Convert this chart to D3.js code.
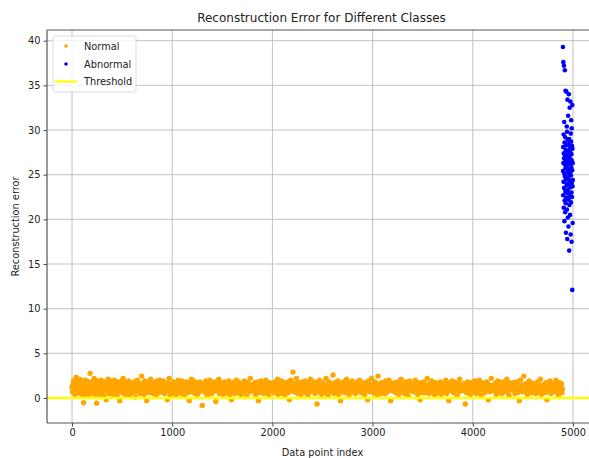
<!DOCTYPE html>
<html>
<head>
<meta charset="utf-8">
<script src="https://cdn.jsdelivr.net/npm/d3@7"></script>
<style>
  html, body { margin: 0; padding: 0; background: #fff; }
  svg { display: block; font-family: "DejaVu Sans", sans-serif; }
</style>
</head>
<body>
<svg id="chart" width="589" height="458"></svg>
<script>
// ---------- DATA ----------
const chartTitle = "Reconstruction Error for Different Classes";
const xLabel = "Data point index";
const yLabel = "Reconstruction error";
const xTicks = [0, 1000, 2000, 3000, 4000, 5000];
const yTicks = [0, 5, 10, 15, 20, 25, 30, 35, 40];
const seriesNames = ["Normal", "Abnormal", "Threshold"];
const thresholdValue = 0;

// Normal class: every 5th data point index from 0 to 4895
const normalStep = 5;
const normalErr = [
1.2,0.7,1.5,1.9,0.9,1.1,0.4,1.6,2.3,1.0,0.6,1.3,1.8,0.8,1.4,2.1,0.5,1.2,1.7,0.9,
1.1,1.6,0.3,-0.54,1.3,2.0,0.8,1.5,1.0,0.6,1.9,1.2,0.2,1.4,1.7,0.9,2.76,1.1,0.7,1.5,
1.8,0.5,1.2,1.0,2.2,0.8,1.4,0.3,1.6,-0.58,1.1,1.9,0.7,1.3,0.9,1.7,0.4,1.2,2.0,1.0,
0.6,1.5,1.1,1.8,0.2,1.3,0.9,1.6,-0.2,1.0,1.4,0.7,2.1,1.2,0.5,1.7,1.0,0.8,1.5,1.9,
1.3,0.4,1.0,1.7,0.8,2.0,1.2,0.6,1.4,1.1,0.3,1.8,0.9,1.5,1.2,-0.3,1.6,0.7,1.1,1.9,
0.9,1.4,2.2,0.5,1.2,1.0,1.7,0.8,1.3,0.2,1.6,1.1,0.7,1.9,1.0,1.4,0.4,1.5,1.2,0.8,
1.6,1.0,0.6,1.3,1.8,0.9,1.1,0.1,1.5,1.2,2.0,0.7,1.4,0.9,1.7,1.1,0.5,1.3,1.0,2.45,
1.2,0.8,1.5,1.0,0.4,1.9,1.3,0.7,1.6,-0.3,1.1,1.4,0.9,1.8,0.6,1.2,1.0,2.1,0.8,1.5,
1.0,1.7,0.5,1.3,1.1,0.8,1.6,1.2,0.3,1.9,1.4,0.9,1.1,0.6,1.5,2.0,1.0,0.7,1.3,1.8,
0.7,1.2,1.9,1.0,1.4,0.5,1.1,1.6,0.9,1.3,-0.2,1.7,0.8,1.2,2.2,1.0,0.4,1.5,1.1,0.9,
1.4,0.9,1.2,1.8,0.6,1.0,1.5,0.3,1.3,1.7,0.8,1.1,2.0,0.7,1.4,1.0,1.6,0.5,1.2,1.9,
1.1,1.5,0.8,1.2,0.2,1.6,1.0,1.8,0.9,1.3,1.1,0.6,1.7,1.4,-0.3,1.0,1.2,0.7,2.1,1.5,
0.8,1.3,1.0,1.9,1.2,0.5,1.4,1.1,1.7,0.9,0.4,1.5,1.0,1.2,0.7,1.8,1.3,0.9,1.6,1.1,
-0.83,1.2,1.6,0.8,1.0,1.4,0.6,1.9,1.1,1.3,0.2,1.7,1.0,0.9,1.5,2.0,0.7,1.2,1.4,0.5,
1.3,1.0,0.7,1.5,1.8,0.9,1.2,-0.4,1.6,1.1,1.4,0.8,1.0,2.1,0.5,1.3,1.7,0.9,1.1,1.5,
1.0,1.6,0.4,1.2,0.9,1.8,1.1,1.4,0.6,1.0,1.5,1.3,0.8,1.9,1.2,0.3,1.6,1.0,-0.2,1.4,
1.2,0.7,1.7,1.1,1.5,0.5,1.3,0.9,2.0,1.2,0.6,1.4,1.0,1.8,0.8,1.1,1.5,0.4,1.3,1.0,
0.9,1.4,1.1,0.6,1.9,1.0,1.3,0.8,1.6,0.2,1.2,1.7,0.9,1.1,1.4,0.7,2.2,1.0,1.5,1.2,
1.5,1.0,0.8,1.3,1.2,1.7,0.4,1.1,1.4,0.9,1.8,1.0,-0.3,1.3,0.6,1.5,1.2,1.9,0.8,1.1,
1.1,1.6,1.0,0.5,1.4,1.2,0.9,2.0,1.3,0.7,1.1,1.5,1.0,0.3,1.7,1.2,0.8,1.4,1.0,1.6,
1.3,0.8,1.5,1.1,0.6,1.8,1.0,1.2,1.4,0.9,2.1,0.4,1.3,1.1,1.6,0.7,1.2,1.0,1.9,0.5,
1.0,1.4,0.9,1.7,1.2,0.3,1.5,1.1,0.8,1.3,1.0,1.8,0.6,1.2,-0.2,1.4,1.1,2.0,0.9,1.5,
1.2,2.9,1.1,0.7,1.6,1.3,0.9,1.0,2.2,1.4,0.5,1.2,1.7,0.8,1.1,1.5,1.0,0.4,1.3,1.8,
0.8,1.3,1.6,1.0,0.6,1.9,1.2,1.4,0.9,1.1,1.7,0.3,1.5,1.0,1.3,0.7,2.1,1.2,0.9,1.4,
1.5,1.0,0.8,1.2,1.8,0.5,1.1,1.4,1.0,-0.68,1.6,1.2,0.7,1.3,2.0,0.9,1.1,1.5,0.4,1.2,
1.1,1.7,0.9,1.3,0.6,1.0,1.4,2.2,0.8,1.2,1.5,0.2,1.1,1.8,1.0,1.3,0.7,1.6,1.2,0.9,
1.4,2.57,1.0,0.5,1.3,1.7,0.9,1.2,1.5,0.8,1.1,1.9,0.4,1.3,1.0,1.6,-0.3,1.2,1.4,0.7,
1.0,1.3,1.8,0.9,1.1,0.6,1.5,1.2,2.1,1.0,0.8,1.4,1.1,0.3,1.7,1.2,0.9,1.5,1.0,1.9,
1.2,0.7,1.4,1.1,1.6,1.0,0.5,1.3,0.9,1.8,1.2,1.0,1.5,0.8,2.0,1.1,1.4,0.6,1.3,1.0,
0.9,1.5,1.1,1.7,0.4,1.2,1.0,1.6,1.3,0.8,-0.2,1.4,1.9,1.0,1.2,0.7,1.5,1.1,2.2,0.9,
1.3,1.0,0.6,1.4,1.2,1.8,0.9,1.1,1.5,0.3,1.2,2.45,1.0,1.6,0.8,1.3,1.1,0.5,1.7,1.2,
1.1,1.6,1.0,0.8,1.3,0.5,1.9,1.2,1.0,1.4,0.7,1.1,1.5,2.0,0.9,1.2,-0.3,1.3,1.0,1.6,
0.8,1.2,1.5,1.0,1.7,1.1,0.6,1.4,0.9,1.3,1.8,1.0,0.4,1.2,1.6,0.9,1.1,2.1,0.7,1.4,
1.4,0.9,1.1,1.6,0.5,1.3,1.0,1.8,1.2,0.7,1.5,0.2,1.3,1.0,1.9,1.1,0.8,1.4,1.2,1.0,
1.0,1.5,0.7,1.2,1.4,2.0,1.1,0.9,1.6,1.3,0.4,1.2,1.0,1.7,0.8,-0.2,1.5,1.1,1.3,0.6,
1.2,1.0,1.8,0.8,1.1,1.5,0.6,1.3,1.0,2.2,1.4,0.9,1.2,0.5,1.6,1.1,1.3,0.7,1.9,1.0,
1.5,0.8,1.2,1.4,0.3,1.1,1.7,1.0,1.3,0.9,1.6,1.2,0.6,1.4,1.0,1.8,1.1,0.4,1.2,1.5,
0.9,1.3,1.0,1.6,1.2,0.7,2.0,1.1,0.5,1.4,1.0,1.7,-0.3,1.2,1.5,0.8,1.1,1.3,0.9,1.9,
1.1,1.4,0.6,1.0,1.8,1.2,0.9,1.5,1.3,0.2,1.1,1.6,1.0,0.7,2.1,1.3,1.2,0.9,1.4,1.0,
1.3,0.8,1.6,1.1,1.0,-0.68,1.4,1.2,0.6,1.8,1.0,1.3,1.5,0.9,1.1,0.4,1.7,1.2,1.0,1.4,
1.0,1.5,1.2,0.7,1.9,1.1,1.3,0.5,1.6,1.0,1.2,0.8,1.4,2.0,1.1,0.9,1.5,0.3,1.2,1.7,
1.2,0.9,1.4,1.1,0.6,1.6,1.0,1.3,1.8,0.8,1.1,-0.2,1.5,1.2,0.7,1.4,1.0,2.2,0.9,1.3,
1.4,1.1,0.8,1.5,1.2,1.0,1.7,0.4,1.3,1.1,1.9,0.9,1.2,0.6,1.6,1.0,1.4,1.1,0.5,1.8,
0.9,1.3,1.6,1.0,0.7,1.2,1.5,1.1,2.1,0.8,1.4,1.0,0.3,1.7,1.2,0.9,1.3,1.6,1.0,1.1,
1.1,1.7,1.0,1.3,0.5,1.4,0.9,1.8,1.2,1.0,0.6,1.5,1.3,-0.3,1.1,2.0,0.8,1.2,1.4,0.7,
1.3,1.0,2.45,0.9,1.2,1.6,0.7,1.4,1.1,0.4,1.5,1.2,1.9,1.0,0.8,1.3,1.1,1.7,0.6,1.2,
1.0,1.4,0.8,1.2,1.6,1.1,0.5,1.3,1.0,1.8,0.9,1.2,1.5,0.7,1.1,2.1,1.3,0.4,1.0,1.4,
1.2,0.9,1.5,1.1,1.3,0.6,1.7,1.0,-0.2,1.4,1.2,0.8,1.6,1.1,1.9,1.0,0.5,1.3,1.2,0.9,
1.4,1.1,0.7,1.6,1.0,1.3,2.0,0.8,1.2,1.5,1.0,0.3,1.4,1.1,1.7,0.9,1.2,1.6,0.6,1.0
];

// Abnormal class: data point indices 4900..4999
const abnormalStart = 4900;
const abnormalErr = [
39.3,25.4,28.1,22.7,37.6,26.3,24.2,29.5,21.3,27.4,
37.2,23.5,26.8,30.9,25.1,19.8,28.6,22.1,27.0,36.7,
24.8,26.1,20.8,29.2,23.1,25.7,34.4,27.8,21.8,26.5,
18.5,24.5,28.3,22.4,34.3,25.9,23.8,27.2,30.4,26.0,
21.1,29.8,24.0,17.8,26.7,33.4,22.9,25.3,28.9,20.2,
27.6,23.3,31.6,24.6,26.4,19.2,28.4,22.2,25.0,34.0,
27.1,23.9,16.5,29.0,25.6,21.6,26.9,32.5,24.3,28.0,
22.6,20.5,27.5,25.2,33.2,23.6,26.2,18.3,29.6,24.9,
21.9,28.7,31.1,25.8,27.3,23.0,17.5,26.6,30.2,24.1,
22.5,28.2,25.5,12.1,32.8,27.9,23.7,19.6,26.3,24.4
];

// ---------- CHART ----------
const W = 589, H = 458;
const plot = { left: 47, right: 598, top: 30, bottom: 423 };
const colors = { normal: "#FFA500", abnormal: "#0000FF", threshold: "#FFFF00" };

const svg = d3.select("#chart");

const x = d3.scaleLinear().domain([-250, 5250]).range([plot.left, plot.right]);
const y = d3.scaleLinear().domain([-2.8, 41.2]).range([plot.bottom, plot.top]);

svg.append("defs").append("clipPath").attr("id", "clip")
  .append("rect")
  .attr("x", plot.left).attr("y", plot.top)
  .attr("width", plot.right - plot.left).attr("height", plot.bottom - plot.top);

const normalPts = normalErr.map((v, i) => ({ idx: i * normalStep, v }));
const abnormalPts = abnormalErr.map((v, i) => ({ idx: abnormalStart + i, v }));

// grid (below the points)
const grid = svg.append("g").attr("clip-path", "url(#clip)")
  .attr("stroke", "#b0b0b0").attr("stroke-width", 0.9).attr("opacity", 0.85);
grid.selectAll(".gx").data(xTicks).join("line")
  .attr("x1", d => x(d)).attr("x2", d => x(d))
  .attr("y1", plot.top).attr("y2", plot.bottom);
grid.selectAll(".gy").data(yTicks).join("line")
  .attr("y1", d => y(d)).attr("y2", d => y(d))
  .attr("x1", plot.left).attr("x2", plot.right);

const g = svg.append("g").attr("clip-path", "url(#clip)");

g.append("g").selectAll("circle").data(normalPts).join("circle")
  .attr("cx", d => x(d.idx)).attr("cy", d => y(d.v)).attr("r", 2.7)
  .attr("fill", colors.normal);
g.append("g").selectAll("circle").data(abnormalPts).join("circle")
  .attr("cx", d => x(d.idx)).attr("cy", d => y(d.v)).attr("r", 2.3)
  .attr("fill", colors.abnormal);

// threshold line
g.append("line")
  .attr("x1", plot.left).attr("x2", plot.right)
  .attr("y1", y(thresholdValue)).attr("y2", y(thresholdValue))
  .attr("stroke", colors.threshold).attr("stroke-width", 2.4);

// axes
const xAxis = d3.axisBottom(x).tickValues(xTicks).tickSize(3.5).tickPadding(3).tickFormat(d3.format("d"));
const yAxis = d3.axisLeft(y).tickValues(yTicks).tickSize(3.5).tickPadding(3).tickFormat(d3.format("d"));

const gx = svg.append("g").attr("transform", `translate(0,${plot.bottom})`).call(xAxis);
const gy = svg.append("g").attr("transform", `translate(${plot.left},0)`).call(yAxis);
[gx, gy].forEach(a => {
  a.select(".domain").remove();
  a.selectAll(".tick line").attr("stroke", "#333").attr("stroke-width", 0.9);
  a.selectAll(".tick text").attr("fill", "#222").style("font-size", "9.8px")
    .style("font-family", "'DejaVu Sans', sans-serif");
});

// spines
const spines = svg.append("g").attr("stroke", "#555").attr("stroke-width", 1.2).attr("fill", "none");
spines.append("line").attr("x1", plot.left).attr("x2", plot.left).attr("y1", plot.top).attr("y2", plot.bottom);
spines.append("line").attr("x1", plot.left).attr("x2", plot.right).attr("y1", plot.bottom).attr("y2", plot.bottom);
spines.append("line").attr("x1", plot.left).attr("x2", plot.right).attr("y1", plot.top).attr("y2", plot.top);
spines.append("line").attr("x1", plot.right).attr("x2", plot.right).attr("y1", plot.top).attr("y2", plot.bottom);

// title & labels
svg.append("text").attr("x", (plot.left + plot.right) / 2 - 1).attr("y", 22)
  .attr("text-anchor", "middle").style("font-size", "12px").attr("fill", "#222")
  .text(chartTitle);
svg.append("text").attr("x", (plot.left + plot.right) / 2).attr("y", 456)
  .attr("text-anchor", "middle").style("font-size", "9.8px").attr("fill", "#222")
  .text(xLabel);
svg.append("text")
  .attr("transform", `translate(19,${(plot.top + plot.bottom) / 2}) rotate(-90)`)
  .attr("text-anchor", "middle").style("font-size", "9.8px").attr("fill", "#222")
  .text(yLabel);

// legend
const lg = svg.append("g").attr("transform", "translate(53,36)");
lg.append("rect").attr("width", 83).attr("height", 56).attr("rx", 2.5)
  .attr("fill", "#fff").attr("fill-opacity", 0.8).attr("stroke", "#d8d8d8").attr("stroke-width", 0.9);
const rows = [
  { name: seriesNames[0], type: "dot", color: colors.normal, cy: 10 },
  { name: seriesNames[1], type: "dot", color: colors.abnormal, cy: 28 },
  { name: seriesNames[2], type: "line", color: colors.threshold, cy: 45.5 }
];
rows.forEach(r => {
  if (r.type === "dot") {
    lg.append("circle").attr("cx", 13).attr("cy", r.cy).attr("r", 1.8).attr("fill", r.color);
  } else {
    lg.append("line").attr("x1", 2).attr("x2", 24).attr("y1", r.cy).attr("y2", r.cy)
      .attr("stroke", r.color).attr("stroke-width", 2.2);
  }
  lg.append("text").attr("x", 31).attr("y", r.cy + 3.5).style("font-size", "9.8px")
    .attr("fill", "#222").text(r.name);
});
</script>
</body>
</html>
